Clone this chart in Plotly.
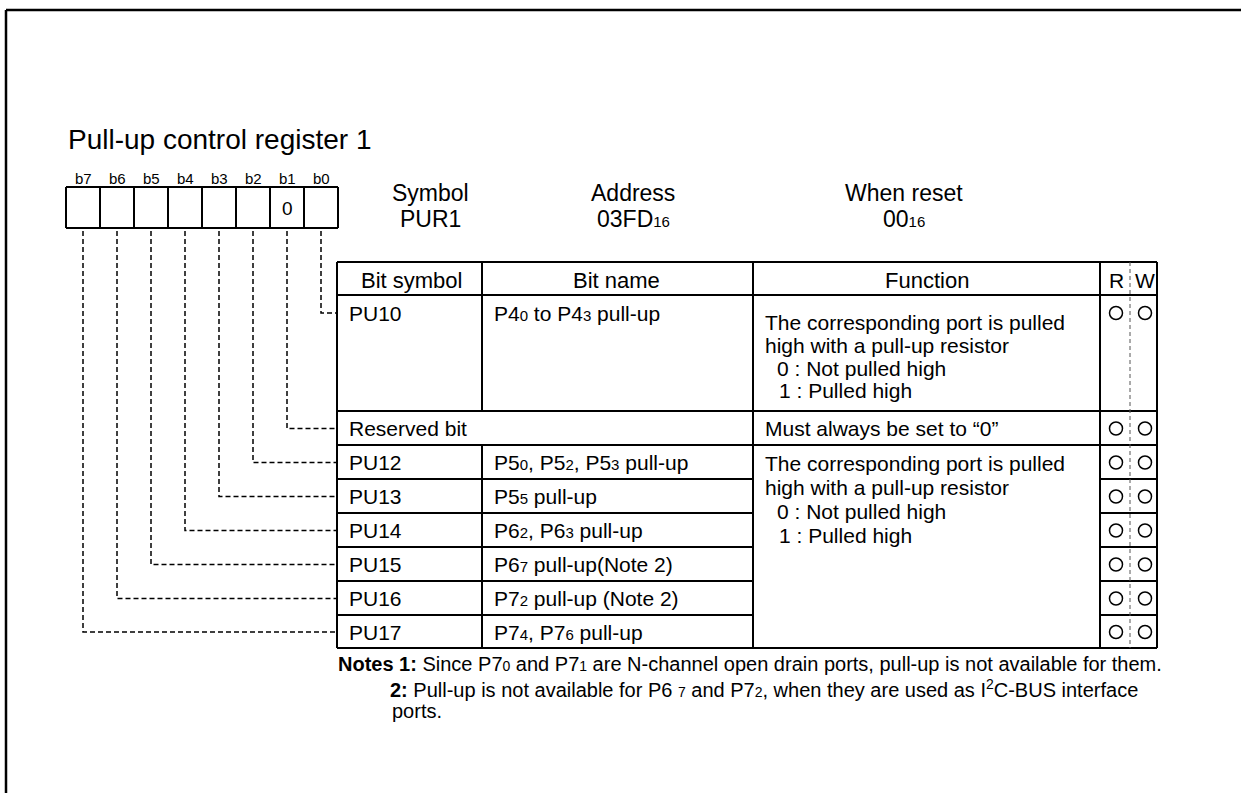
import plotly.graph_objects as go

# ---------------- data (text content of the register diagram) ----------------
title_text = "Pull-up control register 1"
bit_labels = ["b7", "b6", "b5", "b4", "b3", "b2", "b1", "b0"]
bit_fixed = ["", "", "", "", "", "", "0", ""]
reg_info_labels = ["Symbol", "Address", "When reset"]
reg_info_values = ["PUR1", "03FD{16}", "00{16}"]
header_labels = ["Bit symbol", "Bit name", "Function", "R", "W"]
bit_symbols = ["PU10", "Reserved bit", "PU12", "PU13", "PU14", "PU15", "PU16", "PU17"]
bit_names = ["P4{0} to P4{3} pull-up", "", "P5{0}, P5{2}, P5{3} pull-up", "P5{5} pull-up",
             "P6{2}, P6{3} pull-up", "P6{7} pull-up(Note 2)", "P7{2} pull-up (Note 2)",
             "P7{4}, P7{6} pull-up"]
func_pullup = ["The corresponding port is pulled", "high with a pull-up resistor",
               "0 : Not pulled high", "1 : Pulled high"]
func_reserved = "Must always be set to \u201c0\u201d"
read_marks = ["O"] * 8
write_marks = ["O"] * 8
notes_lines = ["<b>Notes 1:</b> Since P7{0} and P7{1} are N-channel open drain ports, pull-up is not available for them.",
               "<b>2:</b> Pull-up is not available for P6 {7} and P7{2}, when they are used as I<sup>2</sup>C-BUS interface",
               "ports."]

# ---------------- layout geometry ----------------
W, H = 1241, 793
FONT = "Liberation Sans, Arial, Helvetica, sans-serif"
BOX_X0, CELL_W, BOX_Y0, BOX_Y1 = 66, 34, 187, 228
COLS = [337, 482, 753, 1100, 1157]
RW_SPLIT = 1130
ROW_EDGES = [262, 295, 411, 445, 479, 513, 547, 581, 615, 648]


def small(s, size):
    out = ""
    i = 0
    while i < len(s):
        if s[i] == "{":
            j = s.index("}", i)
            out += "<span style='font-size:%dpx'>%s</span>" % (size, s[i + 1:j])
            i = j + 1
        else:
            out += s[i]
            i += 1
    return out


shapes = []
anns = []


def line(x0, y0, x1, y1, w=2, color="black", dash=None):
    d = dict(color=color, width=w)
    if dash:
        d["dash"] = dash
    shapes.append(dict(type="line", xref="x", yref="y", x0=x0, y0=y0, x1=x1, y1=y1, line=d))


def text(x, y, s, size=21, anchor="left"):
    anns.append(dict(x=x, y=y, xref="x", yref="y", text=s, showarrow=False,
                     xanchor=anchor, yanchor="middle",
                     font=dict(family=FONT, size=size, color="black")))


# frame
line(6, 10, W, 10, w=2.5)
line(6, 10, 6, H, w=2.5)

# title
text(66, 139, title_text, size=28)

# bit boxes
centers = [BOX_X0 + CELL_W / 2 + CELL_W * i for i in range(8)]
for i in range(9):
    line(BOX_X0 + CELL_W * i, BOX_Y0, BOX_X0 + CELL_W * i, BOX_Y1)
line(BOX_X0, BOX_Y0, BOX_X0 + CELL_W * 8, BOX_Y0)
line(BOX_X0, BOX_Y1, BOX_X0 + CELL_W * 8, BOX_Y1)
for cx, lab, val in zip(centers, bit_labels, bit_fixed):
    text(cx, 178, lab, size=15, anchor="center")
    if val:
        text(cx, 208, val, size=19, anchor="center")

# register info
for cx, lab, val in zip([430, 633, 904], reg_info_labels, reg_info_values):
    text(cx, 193, lab, size=23, anchor="center")
    text(cx, 219, small(val, 15), size=23, anchor="center")

# row y positions
row_y = []
for r in range(8):
    if r == 0:
        row_y.append(313)
    else:
        row_y.append((ROW_EDGES[r + 1] + ROW_EDGES[r + 2]) / 2 + 0.5)

# table lines
top, bot = ROW_EDGES[0], ROW_EDGES[-1]
for y in [ROW_EDGES[0], ROW_EDGES[1], ROW_EDGES[2], ROW_EDGES[3], bot]:
    line(COLS[0], y, COLS[-1], y)
for y in ROW_EDGES[4:-1]:
    line(COLS[0], y, COLS[2], y)
    line(COLS[3], y, COLS[4], y)
for x in [COLS[0], COLS[2], COLS[3], COLS[4]]:
    line(x, top, x, bot)
line(COLS[1], top, COLS[1], ROW_EDGES[2])
line(COLS[1], ROW_EDGES[3], COLS[1], bot)
line(RW_SPLIT, top, RW_SPLIT, bot, w=1, color="#555555", dash="4px,3px")

# header
hy = 280
text((COLS[0] + COLS[1]) / 2 + 2, hy, header_labels[0], size=22, anchor="center")
text((COLS[1] + COLS[2]) / 2 - 1, hy, header_labels[1], size=22, anchor="center")
text((COLS[2] + COLS[3]) / 2, hy, header_labels[2], size=22, anchor="center")
text(1116, hy, header_labels[3], size=21, anchor="center")
text(1145, hy, header_labels[4], size=21, anchor="center")

# rows
for r in range(8):
    text(COLS[0] + 10, row_y[r], bit_symbols[r])
    if bit_names[r]:
        text(COLS[1] + 10, row_y[r], small(bit_names[r], 15))

fy0 = [322, 345, 368, 390]
fy1 = [463, 487, 511, 535]
indent = [0, 0, 12, 14]
for k in range(4):
    text(COLS[2] + 10 + indent[k], fy0[k], func_pullup[k])
    text(COLS[2] + 10 + indent[k], fy1[k], func_pullup[k])
text(COLS[2] + 10, row_y[1], func_reserved)

# connectors from bit cells to rows
for i, cx in enumerate(centers):
    n = 7 - i
    yt = row_y[n]
    shapes.append(dict(type="path", xref="x", yref="y",
                       path="M %s,%s L %s,%s L %s,%s" % (cx, BOX_Y1 + 3, cx, yt, COLS[0], yt),
                       line=dict(color="black", width=1.5, dash="5px,3px")))

fig = go.Figure()
fig.add_trace(go.Scatter(x=[1116] * len(read_marks), y=row_y, mode="markers",
                         marker=dict(symbol="circle-open", size=13, color="black",
                                     line=dict(width=1.5, color="black")),
                         hoverinfo="skip"))
fig.add_trace(go.Scatter(x=[1145] * len(write_marks), y=row_y, mode="markers",
                         marker=dict(symbol="circle-open", size=13, color="black",
                                     line=dict(width=1.5, color="black")),
                         hoverinfo="skip"))

# notes
text(336, 664, small(notes_lines[0], 14), size=20)
text(388, 688, small(notes_lines[1], 14), size=20)
text(390, 711, notes_lines[2], size=20)

fig.update_layout(
    width=W, height=H, margin=dict(l=0, r=0, t=0, b=0),
    paper_bgcolor="white", plot_bgcolor="white", showlegend=False,
    xaxis=dict(range=[0, W], visible=False, fixedrange=True),
    yaxis=dict(range=[H, 0], visible=False, fixedrange=True),
    shapes=shapes, annotations=anns,
)
fig.write_html("out.html", config={"displayModeBar": False},
               post_script="document.body.style.margin='0px';")
